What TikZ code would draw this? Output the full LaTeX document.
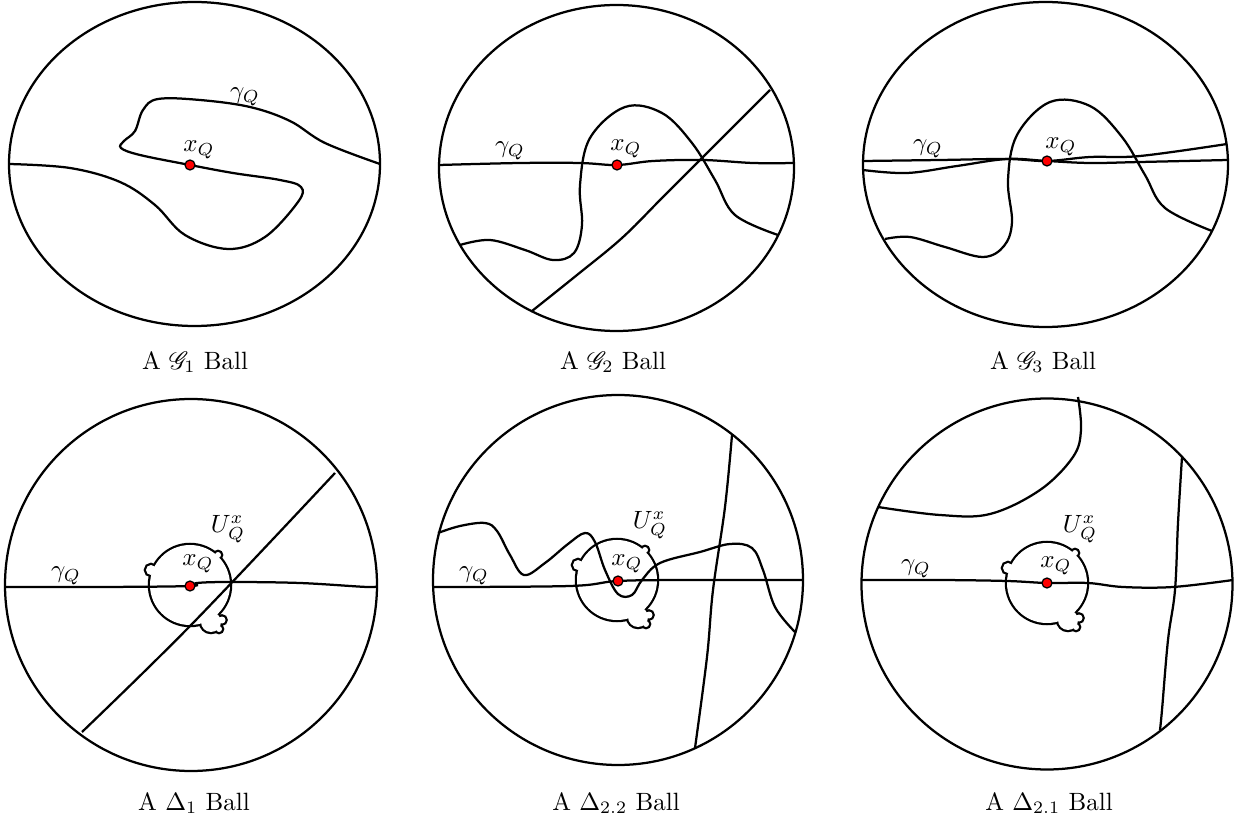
\documentclass[tikz,border=0pt]{standalone}
\usepackage{mathrsfs}

% the set U around x_Q: a disc with a few small bumps
\newcommand{\Uset}[1]{%
  \begin{scope}[shift={#1}]
    \foreach \a/\b/\r in {0/0/40, -39/-15/5, 28/-30/3, 21/37/10, 32/35/3.5, 29/44/3}
      \draw[line width=1.8pt] (\a,\b) circle[radius=\r];
    \foreach \a/\b/\r in {0/0/40, -39/-15/5, 28/-30/3, 21/37/10, 32/35/3.5, 29/44/3}
      \fill[white] (\a,\b) circle[radius=\r];
  \end{scope}}

\begin{document}
\begin{tikzpicture}[x=0.4pt, y=-0.4pt,
    ball/.style={line width=0.9pt},
    curve/.style={line width=0.9pt, smooth, tension=0.6},
    dot/.style={fill=red, draw=black, line width=0.5pt}]
\useasboundingbox (0,0) rectangle (1241,825);

% G_1 ball
\draw[ball] (194.5,164) ellipse (185.5 and 162);
\coordinate (x1) at (190,165);
\draw[curve] plot coordinates {(9,164) (70,168) (120,182) (155,205) (185,235) (228,249) (265,237)
    (298,202) (301,187) (280,180) (233,173) (x1) (140,155) (121,148) (124,141) (135,131) (143,110)
    (158,99) (200,100) (250,107) (290,121) (325,143) (380,164)};
\fill[dot] (x1) circle[radius=5];
\node (g1) at (245,97) {$\gamma_Q$};
\node (xq1) at (199,150) {$x_Q$};
\node (cap1) at (195,362) {A $\mathscr{G}_1$ Ball};

% G_2 ball
\draw[ball] (616.5,168) ellipse (177.5 and 163);
\coordinate (x2) at (617,165);
\draw[curve] plot coordinates {(439,165) (520,163) (580,163) (x2) (653,161) (703,160) (753,163) (794,163)};
\draw[curve] plot coordinates {(532,311) (577,275) (622,238) (662,198) (703,157) (770,90)};
\draw[curve] plot coordinates {(460,245) (490,240) (525,250) (553,260) (574,253) (582,225) (580,185)
    (590,138) (625,107) (662,113) (692,143) (715,180) (735,215) (778,235)};
\fill[dot] (x2) circle[radius=5];
\node (g2) at (510,151) {$\gamma_Q$};
\node (xq2) at (626,149) {$x_Q$};
\node (cap2) at (613,362) {A $\mathscr{G}_2$ Ball};

% G_3 ball
\draw[ball] (1045.5,164.5) ellipse (182.5 and 162.5);
\coordinate (x3) at (1047,161);
\draw[curve] plot coordinates {(863,161) (940,160) (1007,159) (x3) (1090,157) (1140,156) (1227,144)};
\draw[curve] plot coordinates {(863,170) (907,173) (957,166) (1007,159) (x3) (1090,163) (1140,162) (1228,160)};
\draw[curve] plot coordinates {(885,239) (910,237) (945,247) (983,257) (1004,246) (1012,222) (1008,180)
    (1017,135) (1050,102) (1090,106) (1122,137) (1145,175) (1165,208) (1212,231)};
\fill[dot] (x3) circle[radius=5];
\node (g3) at (928,149) {$\gamma_Q$};
\node (xq3) at (1061,147) {$x_Q$};
\node (cap3) at (1043,362) {A $\mathscr{G}_3$ Ball};

% Delta_1 ball
\draw[ball] (191,585) circle[radius=186];
\coordinate (x4) at (190,586);
\Uset{(190,585)}
\draw[curve] plot coordinates {(5,587) (100,587) (x4) (197,583) (230,582) (300,583) (367,587) (376,586)};
\draw[curve] plot coordinates {(82,732) (193,623) (335,473)};
\fill[dot] (x4) circle[radius=5];
\node (g4) at (66,576) {$\gamma_Q$};
\node (xq4) at (198,564) {$x_Q$};
\node (u4) at (228,529) {$U_Q^x$};
\node (cap4) at (194,803) {A $\Delta_1$ Ball};

% Delta_2.2 ball
\draw[ball] (618,580) circle[radius=185];
\coordinate (x5) at (618,581);
\Uset{(617,580)}
\draw[curve] plot coordinates {(433,587) (570,586) (x5) (687,580) (803,580)};
\draw[curve] plot coordinates {(438,533) (460,526) (485,523) (497,531) (510,555) (524,575)
    (545,563) (568,544) (585,533) (595,542) (605,570) (618,594) (632,595) (642,580)
    (660,563) (700,552) (730,544) (752,548) (763,570) (775,607) (795,632)};
\draw[curve] plot coordinates {(732,435) (725,507) (713,590) (707,657) (695,748)};
\fill[dot] (x5) circle[radius=5];
\node (g5) at (474,576) {$\gamma_Q$};
\node (xq5) at (627,564) {$x_Q$};
\node (u5) at (650,525) {$U_Q^x$};
\node (cap5) at (616,803) {A $\Delta_{2.2}$ Ball};

% Delta_2.1 ball
\draw[ball] (1047,584) circle[radius=185.5];
\coordinate (x6) at (1047,583);
\Uset{(1047,583)}
\draw[curve] plot coordinates {(862,580) (940,580) (1007,581) (x6) (1088,583) (1123,587) (1173,587) (1233,580)};
\draw[curve] plot coordinates {(1078,397) (1081,430) (1073,457) (1040,490) (990,514) (940,515) (878,507)};
\draw[curve] plot coordinates {(1182,457) (1178,523) (1175,590) (1168,640) (1162,710) (1160,730)};
\fill[dot] (x6) circle[radius=5];
\node (g6) at (916,569) {$\gamma_Q$};
\node (xq6) at (1056,566) {$x_Q$};
\node (u6) at (1080,529) {$U_Q^x$};
\node (cap6) at (1049,803) {A $\Delta_{2.1}$ Ball};
\end{tikzpicture}
\end{document}
